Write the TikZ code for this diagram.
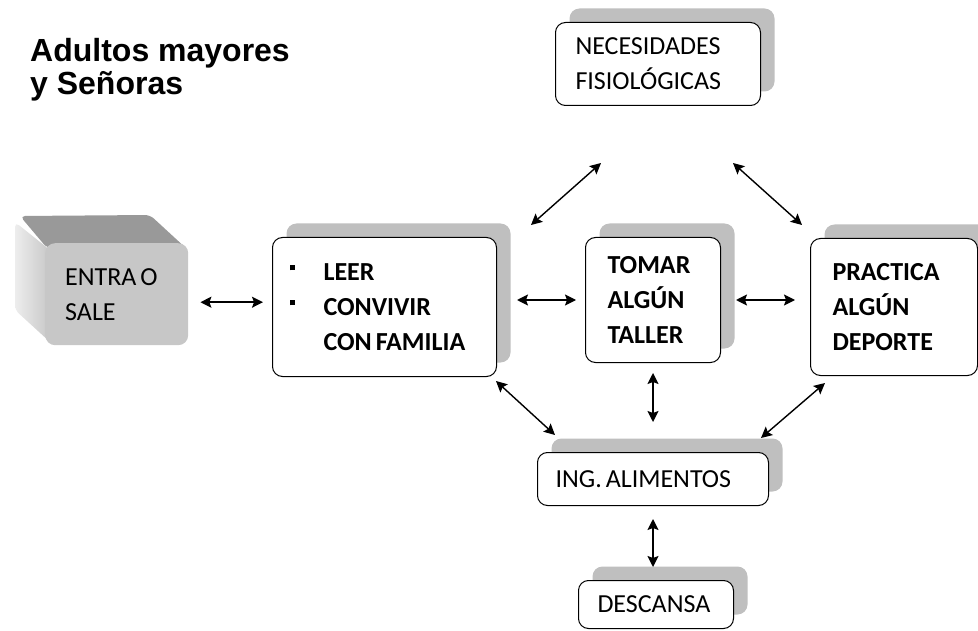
\documentclass[tikz,border=0pt]{standalone}
\usepackage{fontspec}
\setmainfont{Carlito}
\newfontfamily\titlefont{Liberation Sans}
\usetikzlibrary{shadows,arrows.meta}

\newcommand{\apretar}{\spaceskip=4pt\relax}
\tikzset{
  texto/.style={align=left, font=\fontsize{26}{35}\selectfont, execute at begin node=\apretar},
  caja/.style={texto, draw, line width=1pt, rounded corners=10pt, fill=white,
    anchor=north west, inner ysep=0pt,
    drop shadow={shadow xshift=14pt, shadow yshift=14pt, fill=black!25, opacity=1}},
  negrita/.style={font=\fontsize{26}{35}\selectfont\bfseries},
  flecha/.style={line width=1.4pt,
    {Stealth[length=11pt,width=11pt,inset=2pt]}-{Stealth[length=11pt,width=11pt,inset=2pt]}},
}
\newcommand{\vineta}{\makebox[34pt][l]{\raisebox{10pt}{\rule{5pt}{5pt}}}}

\begin{document}
\begin{tikzpicture}[x=1pt, y=-1pt]
  \useasboundingbox (0,0) rectangle (978,631);
  \clip (0,0) rectangle (978,631);

  % Title
  \node[anchor=base west, inner sep=0pt, align=left,
    font=\titlefont\bfseries\fontsize{32}{33}\selectfont] (titulo) at (30,95)
    {Adultos mayores\\y Se\~noras};

  % 3D block: side faces first
  \fill[black!40, rounded corners=5pt] (47,248) -- (20,216) -- (150,215) -- (188,250) -- cycle;
  \shade[left color=black!7, right color=black!22, rounded corners=5pt]
    (15,222) -- (50,250) -- (50,342) -- (15,310) -- cycle;
  \node[texto, anchor=north west, fill=black!22, rounded corners=10pt, minimum width=143pt,
    minimum height=102pt, inner xsep=20pt, text width=103pt] (entra) at (45,243) {ENTRA O\\SALE};

  % Boxes
  \node[caja, inner xsep=20pt, text width=165pt, minimum height=83pt] (necesidades) at (555,22)
    {NECESIDADES\\FISIOL\'OGICAS};
  \node[caja, negrita, inner xsep=17pt, text width=190pt, minimum height=139pt] (leer) at (272,237)
    {\vineta LEER\\\vineta CONVIVIR\\\makebox[34pt]{}CON FAMILIA};
  \node[caja, negrita, inner xsep=22pt, text width=91pt, minimum height=125pt] (tomar) at (585,237)
    {TOMAR\\ALG\'UN\\TALLER};
  \node[caja, negrita, inner xsep=22pt, text width=123pt, minimum height=137pt] (practica) at (810,238)
    {PRACTICA\\ALG\'UN\\DEPORTE};
  \node[caja, inner xsep=18pt, text width=195pt, minimum height=53pt] (alimentos) at (537,452)
    {ING. ALIMENTOS};
  \node[caja, inner xsep=19pt, text width=117pt, minimum height=48pt] (descansa) at (578,580)
    {DESCANSA};

  % Connectors
  \draw[flecha] ([xshift=12pt,yshift=-8pt]entra.east) -- ([xshift=-9pt,yshift=-8pt]entra.east -| leer.west);
  \draw[flecha] ([xshift=20pt]tomar.west -| leer.east) -- ([xshift=-9pt]tomar.west);
  \draw[flecha] ([xshift=15pt]tomar.east) -- ([xshift=-15pt]tomar.east -| practica.west);
  \draw[flecha] ([xshift=-57pt,yshift=-57pt]necesidades.south) -- ([xshift=34pt,yshift=12pt]leer.north east);
  \draw[flecha] ([xshift=75pt,yshift=-57pt]necesidades.south) -- ([xshift=-8pt,yshift=13pt]practica.north west);
  \draw[flecha] ([xshift=-1pt,yshift=-4pt]leer.south east) -- ([xshift=18pt,yshift=17pt]alimentos.north west);
  \draw[flecha] ([yshift=-10pt]tomar.south) -- ([yshift=30pt]tomar.south |- alimentos.north);
  \draw[flecha] ([xshift=15pt,yshift=-7pt]practica.south west) -- ([xshift=-8pt,yshift=14pt]alimentos.north east);
  \draw[flecha] ([yshift=-13pt]alimentos.south) -- ([yshift=13pt]alimentos.south |- descansa.north);
\end{tikzpicture}
\end{document}
